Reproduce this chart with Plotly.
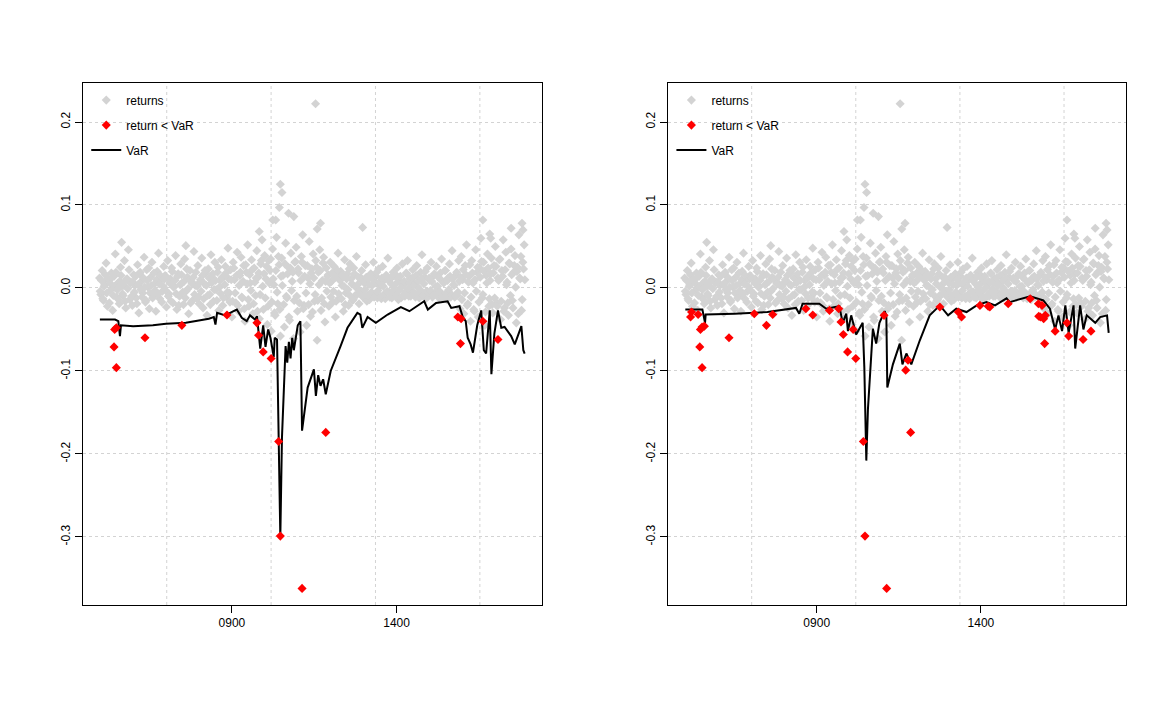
import plotly.graph_objects as go
from plotly.subplots import make_subplots

# returns cloud: roughly weekly observations in two interleaved lists, 25 per year each, 2005 .. 2017
returns = [
    0.012, -0.008, 0.021, -0.015, 0.004, 0.030, -0.022, 0.009, -0.003, 0.018, -0.027, 0.014, 0.041, -0.011, 0.006, -0.019, 0.025, 0.002, -0.009, 0.033, -0.024, 0.011, 0.046, -0.014, 0.007,
    -0.021, 0.016, 0.003, -0.012, 0.028, -0.030, 0.019, 0.008, -0.006, 0.037, -0.017, 0.022, 0.001, -0.025, 0.013, 0.031, -0.009, 0.005, -0.028, 0.020, 0.042, -0.013, 0.010, -0.004, 0.026,
    0.015, -0.023, 0.033, -0.007, 0.011, 0.024, -0.018, 0.002, 0.039, -0.026, 0.017, -0.010, 0.029, 0.006, -0.020, 0.035, -0.004, 0.013, -0.031, 0.021, 0.008, -0.015, 0.044, 0.003, -0.012,
    0.027, -0.019, 0.010, 0.036, -0.024, 0.005, 0.018, -0.033, 0.023, -0.008, 0.040, 0.012, -0.016, 0.031, -0.002, 0.019, -0.027, 0.009, 0.034, -0.021, 0.014, 0.026, -0.011, 0.048, -0.006,
    0.022, -0.035, 0.031, 0.010, -0.018, 0.043, -0.028, 0.015, 0.037, -0.012, 0.027, -0.040, 0.019, 0.052, -0.022, 0.006, 0.034, -0.031, 0.024, -0.009, 0.045, 0.013, -0.037, 0.029, 0.058,
    -0.026, 0.039, 0.011, -0.044, 0.033, 0.021, -0.052, 0.047, 0.004, -0.033, 0.061, -0.019, 0.028, -0.058, 0.036, 0.015, -0.047, 0.054, -0.012, 0.025, -0.039, 0.042, 0.008, -0.061, 0.031,
    0.049, -0.028, 0.018, -0.053, 0.038, 0.064, -0.021, 0.027, -0.045, 0.012, 0.056, -0.034, 0.023, 0.041, -0.016, 0.033, -0.063, 0.019, 0.046, -0.027, 0.009, 0.037, -0.041, 0.024, 0.014,
    -0.022, 0.031, 0.008, -0.017, 0.026, -0.035, 0.015, 0.042, -0.012, 0.020, 0.003, -0.028, 0.034, -0.006, 0.017, -0.021, 0.029, 0.011, -0.015, 0.024, -0.009, 0.038, 0.004, -0.019, 0.013,
    0.021, -0.011, 0.006, 0.028, -0.016, 0.012, -0.014, 0.017, 0.003, 0.031, -0.008, 0.014, -0.012, 0.023, 0.002, -0.013, 0.026, 0.009, -0.013, 0.015, 0.036, -0.005, 0.011, -0.012, 0.019,
    -0.007, 0.016, 0.024, -0.014, 0.008, -0.012, 0.029, 0.004, -0.010, 0.018, 0.033, -0.010, 0.011, -0.004, 0.022, 0.006, -0.011, 0.027, 0.001, -0.012, 0.019, 0.040, -0.008, 0.013, -0.013,
    0.024, -0.010, 0.009, 0.031, -0.011, 0.015, -0.006, 0.026, 0.002, -0.012, 0.018, 0.035, -0.013, 0.007, 0.021, -0.014, 0.012, 0.029, -0.011, 0.045, 0.004, -0.011, 0.016, -0.009, 0.033,
    -0.025, 0.038, 0.010, -0.031, 0.027, 0.052, -0.019, 0.014, -0.040, 0.033, 0.006, -0.028, 0.046, 0.019, -0.035, 0.024, 0.060, -0.012, 0.031, -0.045, 0.015, 0.041, -0.022, 0.009, 0.036,
    -0.030, 0.027, 0.050, -0.018, 0.012, 0.034, -0.038, 0.021, 0.058, -0.024, 0.043, 0.007, -0.033, 0.029, 0.047, -0.015, 0.019, 0.039, -0.042, 0.025, 0.064, 0.011, -0.027, 0.031, 0.052,
]
returns_b = [
    -0.004, 0.009, -0.013, 0.002, 0.016, -0.006, 0.011, -0.018, 0.005, 0.013, -0.009, 0.001, 0.019, -0.002, -0.014, 0.008, 0.015, -0.007, 0.003, -0.016, 0.010, -0.001, 0.022, 0.006, -0.010,
    0.007, -0.005, 0.014, -0.019, 0.004, 0.017, -0.002, -0.011, 0.012, 0.001, -0.015, 0.009, 0.024, -0.006, 0.003, -0.012, 0.018, -0.003, 0.010, -0.008, 0.005, 0.015, -0.017, 0.002, 0.011,
    -0.003, 0.012, -0.010, 0.006, -0.016, 0.020, 0.001, 0.009, -0.007, 0.014, -0.021, 0.004, 0.016, -0.005, 0.008, -0.012, 0.023, -0.001, 0.010, -0.018, 0.005, 0.013, -0.008, 0.019, 0.002,
    -0.011, 0.007, -0.004, 0.015, -0.013, 0.021, 0.003, -0.009, 0.012, -0.020, 0.006, 0.017, -0.002, 0.009, -0.015, 0.025, 0.001, -0.007, 0.013, -0.012, 0.004, 0.018, -0.005, 0.011, -0.017,
    0.010, -0.016, 0.024, -0.006, 0.015, -0.021, 0.003, 0.019, -0.011, 0.008, -0.025, 0.028, 0.005, -0.014, 0.016, -0.003, 0.022, -0.019, 0.007, 0.012, -0.028, 0.018, -0.008, 0.033, 0.002,
    0.017, -0.012, 0.026, -0.022, 0.006, 0.035, -0.017, 0.011, -0.030, 0.021, -0.005, 0.038, -0.026, 0.014, 0.003, -0.020, 0.029, -0.010, 0.017, -0.035, 0.024, -0.003, 0.019, -0.015, 0.032,
    -0.010, 0.023, -0.018, 0.009, 0.031, -0.025, 0.014, -0.006, 0.027, -0.020, 0.005, 0.018, -0.029, 0.012, -0.008, 0.025, -0.015, 0.004, 0.021, -0.012, 0.030, -0.019, 0.008, -0.004, 0.016,
    0.006, -0.011, 0.018, -0.004, 0.012, -0.016, 0.021, -0.007, 0.009, -0.013, 0.015, 0.002, -0.020, 0.011, -0.002, 0.023, -0.010, 0.005, -0.014, 0.017, 0.001, -0.008, 0.013, -0.003, 0.010,
    -0.006, 0.008, -0.002, 0.013, -0.009, 0.004, 0.016, -0.005, 0.010, -0.011, 0.006, 0.019, -0.003, 0.007, -0.010, 0.012, 0.002, -0.007, 0.015, -0.004, 0.009, -0.011, 0.005, 0.014, -0.002,
    0.004, -0.008, 0.011, -0.003, 0.014, 0.001, -0.009, 0.008, -0.005, 0.017, -0.001, 0.006, -0.010, 0.012, 0.003, -0.006, 0.015, -0.008, 0.009, -0.002, 0.011, -0.009, 0.005, 0.020, -0.004,
    -0.005, 0.012, -0.003, 0.008, -0.009, 0.017, 0.002, -0.007, 0.013, -0.004, 0.010, -0.010, 0.006, 0.021, -0.006, 0.009, -0.002, 0.014, -0.008, 0.011, 0.003, -0.010, 0.019, -0.005, 0.008,
    0.013, -0.014, 0.022, -0.006, 0.016, -0.021, 0.007, 0.028, -0.011, 0.018, -0.026, 0.010, -0.004, 0.025, -0.017, 0.013, 0.032, -0.008, 0.020, -0.029, 0.006, 0.024, -0.013, 0.017, -0.020,
    0.018, -0.012, 0.026, -0.022, 0.009, 0.035, -0.016, 0.014, -0.028, 0.022, 0.004, -0.018, 0.030, -0.009, 0.016, -0.024, 0.027, 0.001, 0.020, -0.031, 0.012, 0.038, -0.014, 0.023, 0.010,
]
first_year = 2004.98
step = 0.0398

# the few large positive returns
big_dates = [2010.47, 2010.52, 2010.44, 2010.33, 2010.24, 2010.72, 2010.88, 2009.83, 2011.54, 2011.69, 2011.59, 2012.97, 2016.62, 2016.83, 2016.86, 2017.48, 2017.81, 2017.84, 2005.65, 2007.6]
big_returns = [0.125, 0.115, 0.097, 0.082, 0.082, 0.090, 0.086, 0.068, 0.222, 0.078, 0.071, 0.073, 0.082, 0.065, 0.060, 0.072, 0.078, 0.070, 0.055, 0.051]

# left panel VaR
var1_dates = [2004.99, 2005.45, 2005.55, 2005.60, 2005.63, 2006.0, 2006.6, 2007.0, 2007.6, 2008.3, 2008.45, 2008.50, 2008.55, 2008.8, 2009.05, 2009.15,
              2009.3, 2009.45, 2009.55, 2009.7, 2009.76, 2009.86, 2009.95, 2010.02, 2010.10, 2010.17, 2010.27, 2010.30, 2010.37, 2010.44, 2010.47, 2010.52,
              2010.58, 2010.63, 2010.68, 2010.73, 2010.78, 2010.83, 2010.88, 2011.0, 2011.08, 2011.13, 2011.3, 2011.49, 2011.55, 2011.62, 2011.69, 2011.77,
              2011.85, 2012.0, 2012.3, 2012.51, 2012.81, 2012.90, 2012.96, 2013.12, 2013.37, 2013.73, 2014.13, 2014.39, 2014.84, 2014.95, 2015.2, 2015.55,
              2015.66, 2015.91, 2016.01, 2016.10, 2016.16, 2016.25, 2016.32, 2016.45, 2016.57, 2016.65, 2016.72, 2016.83, 2016.88, 2016.97, 2017.08, 2017.18,
              2017.28, 2017.38, 2017.48, 2017.59, 2017.70, 2017.79, 2017.85, 2017.89]
var1 = [-0.038, -0.038, -0.040, -0.058, -0.045, -0.046, -0.045, -0.043, -0.042, -0.037, -0.035, -0.044, -0.030, -0.033, -0.028, -0.026,
        -0.036, -0.040, -0.033, -0.038, -0.034, -0.073, -0.045, -0.071, -0.050, -0.060, -0.083, -0.060, -0.062, -0.230, -0.300, -0.180,
        -0.105, -0.070, -0.090, -0.065, -0.085, -0.060, -0.075, -0.045, -0.040, -0.172, -0.120, -0.098, -0.130, -0.105, -0.118, -0.110,
        -0.128, -0.100, -0.070, -0.048, -0.030, -0.032, -0.048, -0.035, -0.042, -0.032, -0.023, -0.028, -0.016, -0.026, -0.018, -0.016,
        -0.024, -0.022, -0.035, -0.040, -0.060, -0.068, -0.078, -0.045, -0.027, -0.075, -0.079, -0.027, -0.104, -0.055, -0.027, -0.048,
        -0.047, -0.052, -0.058, -0.068, -0.055, -0.046, -0.075, -0.079]
exc1_dates = [2005.44, 2005.49, 2005.42, 2005.49, 2006.36, 2007.48, 2008.85, 2009.76, 2009.81, 2009.95, 2010.19, 2010.42, 2010.47, 2011.13,
              2011.85, 2015.86, 2015.96, 2015.94, 2016.62, 2017.08]
exc1 = [-0.050, -0.048, -0.071, -0.096, -0.060, -0.045, -0.0325, -0.042, -0.057, -0.077, -0.085, -0.185, -0.299, -0.362,
        -0.174, -0.035, -0.037, -0.067, -0.040, -0.062]

# right panel VaR
var2_dates = [2005.0, 2005.52, 2005.60, 2005.62, 2006.5, 2007.5, 2008.37, 2008.47, 2008.57, 2009.08, 2009.29, 2009.69, 2009.79, 2009.90, 2009.95,
              2010.05, 2010.20, 2010.40, 2010.45, 2010.48, 2010.51, 2010.56, 2010.63, 2010.71, 2010.81, 2010.91, 2011.07, 2011.12, 2011.15, 2011.32,
              2011.53, 2011.61, 2011.73, 2011.88, 2012.14, 2012.44, 2012.75, 2013.0, 2013.25, 2013.56, 2013.87, 2014.17, 2014.43, 2014.78, 2014.88,
              2015.50, 2015.90, 2016.10, 2016.26, 2016.36, 2016.47, 2016.57, 2016.67, 2016.82, 2016.87, 2017.02, 2017.12, 2017.22, 2017.48, 2017.63,
              2017.84, 2017.89]
var2 = [-0.026, -0.026, -0.042, -0.032, -0.031, -0.029, -0.024, -0.031, -0.019, -0.019, -0.025, -0.022, -0.042, -0.031, -0.052,
        -0.033, -0.056, -0.042, -0.096, -0.162, -0.208, -0.146, -0.096, -0.049, -0.067, -0.042, -0.028, -0.033, -0.120, -0.092,
        -0.067, -0.092, -0.079, -0.092, -0.063, -0.033, -0.021, -0.033, -0.025, -0.029, -0.021, -0.017, -0.021, -0.0125, -0.017,
        -0.010, -0.015, -0.025, -0.050, -0.033, -0.052, -0.021, -0.054, -0.021, -0.073, -0.021, -0.050, -0.033, -0.042, -0.035,
        -0.033, -0.054]
exc2_dates = [2005.16, 2005.19, 2005.39, 2005.46, 2005.51, 2005.58, 2005.44, 2005.51, 2006.33, 2007.10, 2007.47, 2007.66, 2008.67, 2008.88,
              2009.39, 2009.67, 2009.74, 2009.81, 2009.94, 2010.11, 2010.19, 2010.42, 2010.47, 2011.05, 2011.13, 2011.71, 2011.78, 2011.86,
              2012.75, 2013.31, 2013.41, 2013.97, 2014.22, 2014.27, 2014.83, 2015.50, 2015.75, 2015.86, 2015.81, 2015.91, 2015.76, 2015.96,
              2015.94, 2016.26, 2016.62, 2016.67, 2017.11, 2017.35]
exc2 = [-0.035, -0.029, -0.032, -0.050, -0.047, -0.046, -0.071, -0.096, -0.060, -0.031, -0.045, -0.032, -0.025, -0.0325,
        -0.027, -0.025, -0.041, -0.056, -0.077, -0.050, -0.085, -0.185, -0.299, -0.033, -0.362, -0.099, -0.087, -0.174,
        -0.023, -0.029, -0.035, -0.021, -0.022, -0.023, -0.019, -0.013, -0.019, -0.021, -0.035, -0.037, -0.034, -0.033,
        -0.067, -0.052, -0.042, -0.058, -0.062, -0.052]

grid_years = [2007.02, 2010.19, 2013.36, 2016.53]
y_ticks = [0.2, 0.1, 0.0, -0.1, -0.2, -0.3]
y_labels = ["0.2", "0.1", "0.0", "-0.1", "-0.2", "-0.3"]

dates = [first_year + i * step for i in range(len(returns))]
dates_b = [first_year + step / 2 + i * step for i in range(len(returns_b))]
all_dates = dates + dates_b + big_dates
all_returns = returns + returns_b + big_returns

GRAY = "#D3D3D3"
FONT = "Liberation Sans"

fig = make_subplots(rows=1, cols=2)

panels = [(var1_dates, var1, exc1_dates, exc1, "legend"),
          (var2_dates, var2, exc2_dates, exc2, "legend2")]
for col, (vd, vv, ed, ev, leg) in enumerate(panels, start=1):
    fig.add_trace(go.Scatter(x=all_dates, y=all_returns, mode="markers", name="returns",
                             marker=dict(symbol="diamond", size=7, color=GRAY),
                             legend=leg, legendgroup="r", legendrank=1),
                  row=1, col=col)
    fig.add_trace(go.Scatter(x=vd, y=vv, mode="lines", name="VaR",
                             line=dict(color="black", width=2),
                             legend=leg, legendgroup="v", legendrank=3),
                  row=1, col=col)
    fig.add_trace(go.Scatter(x=ed, y=ev, mode="markers", name="return < VaR",
                             marker=dict(symbol="diamond", size=7, color="red"),
                             legend=leg, legendgroup="e", legendrank=2),
                  row=1, col=col)
    for g in grid_years:
        fig.add_vline(x=g, line=dict(color="#D3D3D3", width=1, dash="dot"), layer="below", row=1, col=col)

axis_common = dict(showline=True, mirror=True, linecolor="black", linewidth=1, ticks="outside",
                   ticklen=7, tickcolor="black", zeroline=False,
                   tickfont=dict(family=FONT, size=12, color="black"))
fig.update_xaxes(range=[2004.47, 2018.41], tickvals=[2009, 2014], ticktext=["0900", "1400"],
                 showgrid=False, **axis_common)
fig.update_yaxes(range=[-0.382, 0.247], tickvals=y_ticks, ticktext=y_labels, tickangle=-90, showgrid=True,
                 gridcolor="#D3D3D3", griddash="dot", gridwidth=1, **axis_common)
fig.update_layout(xaxis=dict(domain=[0.064, 0.457]), xaxis2=dict(domain=[0.565, 0.957]))

legend_style = dict(bgcolor="rgba(0,0,0,0)", borderwidth=0, xanchor="left", yanchor="top",
                    font=dict(family=FONT, size=12, color="black"), traceorder="grouped",
                    tracegroupgap=6)
fig.update_layout(
    width=1168, height=710,
    margin=dict(l=0, r=0, t=75, b=113, autoexpand=False),
    paper_bgcolor="white", plot_bgcolor="white",
    showlegend=True,
    legend=dict(x=0.067, y=0.995, **legend_style),
    legend2=dict(x=0.568, y=0.995, **legend_style),
)

fig.write_html("out.html")
